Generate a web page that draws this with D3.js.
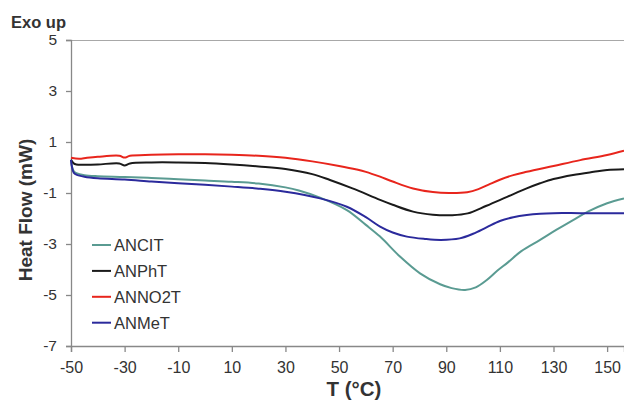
<!DOCTYPE html>
<html>
<head>
<meta charset="utf-8">
<script src="https://cdn.jsdelivr.net/npm/d3@7/dist/d3.min.js"></script>
<style>
  html, body { margin: 0; padding: 0; background: #fff; }
  svg { display: block; font-family: Arial, "Liberation Sans", sans-serif; }
</style>
</head>
<body>
<svg id="chart" width="624" height="401"></svg>
<script>
// DSC heat-flow traces, temperature in °C, heat flow in mW
const seriesNames = ["ANCIT", "ANPhT", "ANNO2T", "ANMeT"];
const seriesColors = ["#5a9b92", "#1a1a1a", "#e8251c", "#2b2a9c"];

const tANCIT = [-50, -49.6, -49, -48, -45, -40, -30, -20, -10, 0, 10, 20, 30, 35, 42.9, 52.9, 60, 65.3, 72.8, 80.2, 87.7, 92, 97, 101, 105, 109, 113, 118, 125, 131, 137.3, 143, 150, 156.3];
const hANCIT = [0.30, 0.02, -0.14, -0.22, -0.30, -0.34, -0.37, -0.41, -0.46, -0.51, -0.56, -0.63, -0.78, -0.90, -1.18, -1.67, -2.25, -2.71, -3.50, -4.15, -4.58, -4.73, -4.80, -4.70, -4.42, -4.05, -3.72, -3.28, -2.84, -2.45, -2.06, -1.72, -1.40, -1.21];

const tANPhT = [-50, -49, -48, -45, -40, -32, -30, -28, -20, -10, 0, 10, 20, 30, 40, 46.6, 55, 65.3, 70, 77.6, 85, 92, 98, 105, 112.7, 120, 125, 130, 137.3, 145, 150, 156.3];
const hANPhT = [0.30, 0.16, 0.12, 0.11, 0.12, 0.16, 0.08, 0.16, 0.20, 0.20, 0.18, 0.12, 0.04, -0.06, -0.26, -0.49, -0.82, -1.27, -1.46, -1.73, -1.85, -1.87, -1.80, -1.50, -1.15, -0.82, -0.62, -0.45, -0.29, -0.17, -0.10, -0.07];

const tANNO2T = [-50, -47, -44, -40, -32, -30, -28, -20, -10, 0, 10, 20, 30, 40, 50, 56.6, 60, 65.3, 70, 77.6, 85, 91, 97.8, 102, 106, 110, 115, 120, 130, 140, 150, 156.3];
const hANNO2T = [0.38, 0.34, 0.38, 0.42, 0.46, 0.39, 0.46, 0.50, 0.52, 0.52, 0.50, 0.46, 0.38, 0.24, 0.06, -0.08, -0.17, -0.36, -0.55, -0.82, -0.96, -1.00, -0.97, -0.85, -0.66, -0.48, -0.30, -0.17, 0.06, 0.29, 0.49, 0.66];

const tANMeT = [-50, -49.6, -49, -48, -45, -40, -30, -20, -10, 0, 10, 20, 30, 42.9, 52.9, 60, 65.3, 70, 75.3, 82, 88, 95, 100, 105, 110, 115, 120, 125, 130, 140, 150, 156.3];
const hANMeT = [0.30, 0.0, -0.20, -0.28, -0.36, -0.42, -0.47, -0.55, -0.62, -0.68, -0.75, -0.83, -0.95, -1.21, -1.54, -1.95, -2.32, -2.55, -2.71, -2.80, -2.84, -2.78, -2.60, -2.35, -2.10, -1.95, -1.86, -1.81, -1.79, -1.79, -1.79, -1.79];

const xTicks = [-50, -30, -10, 10, 30, 50, 70, 90, 110, 130, 150];
const yTicks = [5, 3, 1, -1, -3, -5, -7];

const seriesT = [tANCIT, tANPhT, tANNO2T, tANMeT];
const seriesH = [hANCIT, hANPhT, hANNO2T, hANMeT];

const svg = d3.select("#chart");
const plotLeft = 71, plotRight = 624, plotTop = 40, plotBottom = 346;

const x = d3.scaleLinear().domain([-50, 156.3]).range([plotLeft, plotRight]);
const y = d3.scaleLinear().domain([-7, 5]).range([plotBottom, plotTop]);

// plain hyphen-minus labels
const fmt = d => String(d);

// frame: top border line
svg.append("line")
  .attr("x1", plotLeft).attr("x2", plotRight)
  .attr("y1", plotTop + 0.5).attr("y2", plotTop + 0.5)
  .attr("stroke", "#a8a8a8").attr("stroke-width", 1.2);

// axes
const xAxis = svg.append("g")
  .attr("transform", `translate(0,${plotBottom})`)
  .call(d3.axisBottom(x).tickValues(xTicks).tickSize(6).tickPadding(10).tickFormat(fmt));
xAxis.select(".domain").attr("stroke", "#888").attr("stroke-width", 1.3);
xAxis.selectAll(".tick line").attr("stroke", "#888").attr("stroke-width", 1.3);
xAxis.selectAll(".tick text").attr("font-size", 16).attr("fill", "#333")
  .attr("font-family", "Arial, 'Liberation Sans', sans-serif");

const yAxis = svg.append("g")
  .attr("transform", `translate(${plotLeft},0)`)
  .call(d3.axisLeft(y).tickValues(yTicks).tickSize(5).tickPadding(9).tickFormat(fmt));
yAxis.select(".domain").attr("stroke", "#888").attr("stroke-width", 1.3);
yAxis.selectAll(".tick line").attr("stroke", "#888").attr("stroke-width", 1.3);
yAxis.selectAll(".tick text").attr("font-size", 15.5).attr("fill", "#333")
  .attr("font-family", "Arial, 'Liberation Sans', sans-serif");

// traces
const line = d3.line()
  .x(d => x(d[0]))
  .y(d => y(d[1]))
  .curve(d3.curveCatmullRom.alpha(0.5));

const plot = svg.append("g");
seriesNames.forEach((name, i) => {
  const pts = seriesT[i].map((t, j) => [t, seriesH[i][j]]);
  plot.append("path")
    .datum(pts)
    .attr("fill", "none")
    .attr("stroke", seriesColors[i])
    .attr("stroke-width", 2)
    .attr("stroke-linejoin", "round")
    .attr("d", line);
});

// legend
const legend = svg.append("g");
seriesNames.forEach((name, i) => {
  const ly = 245 + i * 25.9;
  legend.append("line")
    .attr("x1", 92).attr("x2", 111)
    .attr("y1", ly).attr("y2", ly)
    .attr("stroke", seriesColors[i]).attr("stroke-width", 2);
  legend.append("text")
    .attr("x", 114).attr("y", ly)
    .attr("dy", "0.36em")
    .attr("font-size", 16.5).attr("fill", "#333")
    .text(name);
});

// titles
svg.append("text")
  .attr("x", 11).attr("y", 28)
  .attr("font-size", 16.5).attr("font-weight", "bold").attr("fill", "#333")
  .text("Exo up");

svg.append("text")
  .attr("transform", "translate(32,210) rotate(-90)")
  .attr("text-anchor", "middle")
  .attr("font-size", 19).attr("font-weight", "bold").attr("fill", "#333")
  .text("Heat Flow (mW)");

svg.append("text")
  .attr("x", 354).attr("y", 396)
  .attr("text-anchor", "middle")
  .attr("font-size", 20.5).attr("font-weight", "bold").attr("fill", "#333")
  .text("T (°C)");
</script>
</body>
</html>
